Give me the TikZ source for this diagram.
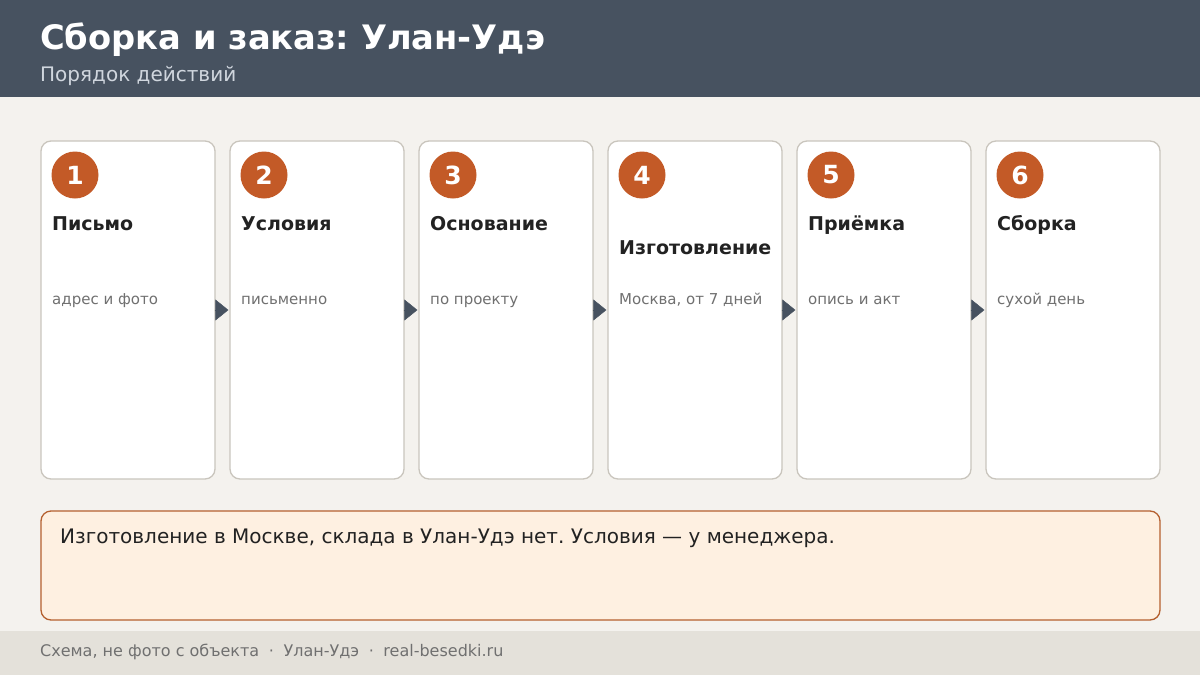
\documentclass[tikz,border=0pt]{standalone}
\usepackage{fontspec}
\setmainfont{DejaVu Sans}
\usetikzlibrary{arrows.meta}
\frenchspacing

\definecolor{headbg}{HTML}{475260}
\definecolor{pagebg}{HTML}{F4F2EE}
\definecolor{cardline}{HTML}{C9C5BD}
\definecolor{badge}{HTML}{C35A27}
\definecolor{inkdark}{HTML}{222222}
\definecolor{inkgray}{HTML}{707070}
\definecolor{subhead}{HTML}{D0D6DE}
\definecolor{notebg}{HTML}{FEF0E1}
\definecolor{noteline}{HTML}{B5602F}
\definecolor{footbg}{HTML}{E4E1DA}

\begin{document}
\begin{tikzpicture}[x=1pt, y=-1pt,
    card/.style={draw=cardline, line width=1.3pt, fill=white, rounded corners=10pt,
                 minimum width=174pt, minimum height=338pt, inner sep=0pt},
    badgenum/.style={circle, fill=badge, minimum size=47pt, inner sep=0pt,
                 text=white, font=\fontsize{25}{29}\selectfont\bfseries},
    steptitle/.style={anchor=base west, inner sep=0pt, text=inkdark,
                 font=\fontsize{19}{22}\selectfont\bfseries},
    stepnote/.style={anchor=base west, inner sep=0pt, text=inkgray,
                 font=\fontsize{15}{18}\selectfont},
    link/.style={draw=headbg, line width=0.4pt, shorten <=1pt, shorten >=1pt,
                 -{Triangle[length=13pt, width=21pt, fill=headbg]}}]
    \useasboundingbox (0,0) rectangle (1200,675);
    \fill[pagebg] (0,0) rectangle (1200,675);

    % header
    \fill[headbg] (0,0) rectangle (1200,97);
    \node[anchor=base west, inner sep=0pt, text=white,
          font=\fontsize{33.7}{40}\selectfont\bfseries] (title) at (40,49) {Сборка и заказ: Улан-Удэ};
    \node[anchor=base west, inner sep=0pt, text=subhead,
          font=\fontsize{20}{24}\selectfont] (subtitle) at (40,81) {Порядок действий};

    % cards
    \node[card](c1) at (128,310)  {};
    \node[card](c2) at (317,310)  {};
    \node[card](c3) at (506,310)  {};
    \node[card](c4) at (695,310)  {};
    \node[card](c5) at (884,310)  {};
    \node[card](c6) at (1073,310) {};

    \node[badgenum](n1) at (75,175)   {1};
    \node[badgenum](n2) at (264,175)  {2};
    \node[badgenum](n3) at (453,175)  {3};
    \node[badgenum](n4) at (642,175)  {4};
    \node[badgenum](n5) at (831,175)  {5};
    \node[badgenum](n6) at (1020,175) {6};

    \node[steptitle](t1) at (52,230)  {Письмо};
    \node[steptitle](t2) at (241,230) {Условия};
    \node[steptitle](t3) at (430,230) {Основание};
    \node[steptitle](t4) at (619,254) {Изготовление};
    \node[steptitle](t5) at (808,230) {Приёмка};
    \node[steptitle](t6) at (997,230) {Сборка};

    \node[stepnote](s1) at (52,304)  {адрес и фото};
    \node[stepnote](s2) at (241,304) {письменно};
    \node[stepnote](s3) at (430,304) {по проекту};
    \node[stepnote](s4) at (619,304) {Москва, от 7 дней};
    \node[stepnote](s5) at (808,304) {опись и акт};
    \node[stepnote](s6) at (997,304) {сухой день};

    \path
        (c1) edge [link] (c2)
        (c2) edge [link] (c3)
        (c3) edge [link] (c4)
        (c4) edge [link] (c5)
        (c5) edge [link] (c6)
        ;

    % note
    \node[draw=noteline, line width=1.3pt, fill=notebg, rounded corners=10pt,
          minimum width=1119pt, minimum height=109pt, inner sep=0pt] (note) at (600.5,565.5) {};
    \node[anchor=base west, inner sep=0pt, text=inkdark,
          font=\fontsize{20}{24}\selectfont] (notetext) at (60,543)
          {Изготовление в Москве, склада в Улан-Удэ нет. Условия — у менеджера.};

    % footer
    \fill[footbg] (0,631) rectangle (1200,675);
    \node[anchor=base west, inner sep=0pt, text=inkgray,
          font=\fontsize{16}{19}\selectfont] (foot) at (40,656)
          {Схема, не фото с объекта\hspace{0.6em}·\hspace{0.6em}Улан-Удэ\hspace{0.6em}·\hspace{0.6em}real-besedki.ru};
\end{tikzpicture}
\end{document}
